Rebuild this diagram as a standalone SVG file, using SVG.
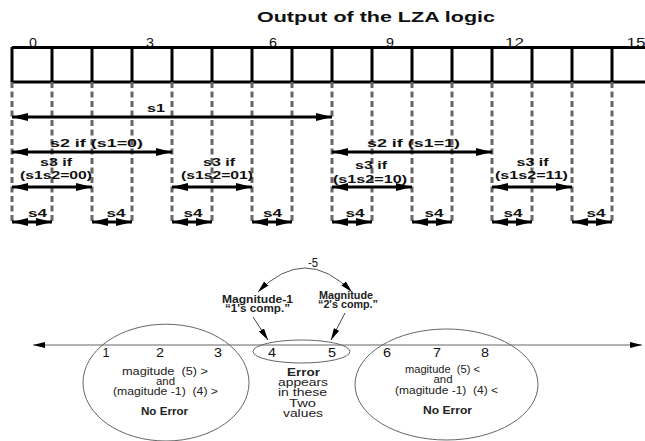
<svg xmlns="http://www.w3.org/2000/svg" width="645" height="441" viewBox="0 0 645 441">
<style>
text{font-family:"Liberation Sans",Arial,sans-serif;white-space:pre}
.b{font-weight:bold}
.lbl{font-weight:bold;font-size:11.5px;fill:#111;text-anchor:middle}
.num{font-size:12px;fill:#111;text-anchor:middle}
.grid{stroke:#000;stroke-width:3;fill:none}
.dash{stroke:#666;stroke-width:3;stroke-dasharray:6 3.5;fill:none}
.arr{stroke:#000;stroke-width:3;fill:none;marker-start:url(#ah);marker-end:url(#ah)}
.sm{font-size:10px;fill:#222;text-anchor:middle}
.ell{fill:none;stroke:#666;stroke-width:1}
.thin{stroke:#444;stroke-width:1;fill:none}
</style>
<defs>
<marker id="ah" viewBox="0 0 16 8" refX="16" refY="4" markerWidth="16" markerHeight="8" markerUnits="userSpaceOnUse" orient="auto-start-reverse">
<path d="M0,0 L16,4 L0,8 z" fill="#000"/>
</marker>
<marker id="sh" viewBox="0 0 12 6" refX="12" refY="3" markerWidth="12" markerHeight="6" markerUnits="userSpaceOnUse" orient="auto-start-reverse">
<path d="M0,0 L12,3 L0,6 z" fill="#000"/>
</marker>
</defs>

<text class="b" x="376" y="22" font-size="15.5" fill="#111" text-anchor="middle" textLength="238" lengthAdjust="spacingAndGlyphs">Output of the LZA logic</text>

<g id="grid">
<line class="grid" x1="12" y1="47.5" x2="645" y2="47.5" stroke-width="2"/>
<line class="grid" x1="12" y1="82" x2="645" y2="82" stroke-width="2"/>
<path class="grid" d="M12,47 V82 M52,47 V82 M92,47 V82 M132,47 V82 M172,47 V82 M212,47 V82 M252,47 V82 M292,47 V82 M332,47 V82 M372,47 V82 M412,47 V82 M452,47 V82 M492,47 V82 M532,47 V82 M612,47 V82"/>
<path class="grid" stroke-width="1.5" d="M572,47 V82"/>
<text class="num" x="33" y="46.5" font-size="12.5" textLength="8" lengthAdjust="spacingAndGlyphs">0</text>
<text class="num" x="150" y="46.5" font-size="12.5" textLength="8" lengthAdjust="spacingAndGlyphs">3</text>
<text class="num" x="273" y="46.5" font-size="12.5" textLength="8" lengthAdjust="spacingAndGlyphs">6</text>
<text class="num" x="390" y="46.5" font-size="12.5" textLength="8" lengthAdjust="spacingAndGlyphs">9</text>
<text class="num" x="514.5" y="46.5" font-size="12.5" textLength="19" lengthAdjust="spacingAndGlyphs">12</text>
<text class="num" x="636" y="46.5" font-size="12.5" textLength="19" lengthAdjust="spacingAndGlyphs">15</text>
</g>

<g id="guides">
<path class="dash" d="M12,82 V222 M52,82 V222 M92,82 V222 M132,82 V222 M172,82 V222 M212,82 V222 M252,82 V222 M292,82 V222 M332,82 V222 M372,82 V222 M412,82 V222 M452,82 V222 M492,82 V222 M532,82 V222 M572,82 V222 M612,82 V222"/>
</g>

<g id="connectors">
<line class="arr" x1="12" y1="117" x2="332" y2="117"/>
<line class="arr" x1="12" y1="152" x2="172" y2="152"/>
<line class="arr" x1="332" y1="152" x2="492" y2="152"/>
<line class="arr" x1="12" y1="187" x2="92" y2="187"/>
<line class="arr" x1="172" y1="187" x2="252" y2="187"/>
<line class="arr" x1="332" y1="187" x2="412" y2="187"/>
<line class="arr" x1="492" y1="187" x2="572" y2="187"/>
<line class="arr" x1="12" y1="222" x2="52" y2="222"/>
<line class="arr" x1="92" y1="222" x2="132" y2="222"/>
<line class="arr" x1="172" y1="222" x2="212" y2="222"/>
<line class="arr" x1="252" y1="222" x2="292" y2="222"/>
<line class="arr" x1="332" y1="222" x2="372" y2="222"/>
<line class="arr" x1="412" y1="222" x2="452" y2="222"/>
<line class="arr" x1="492" y1="222" x2="532" y2="222"/>
<line class="arr" x1="572" y1="222" x2="612" y2="222"/>
</g>

<g id="labels">
<text class="lbl" x="156" y="112" textLength="18" lengthAdjust="spacingAndGlyphs">s1</text>
<text class="lbl" x="96.5" y="147" textLength="93" lengthAdjust="spacingAndGlyphs">s2 if (s1=0)</text>
<text class="lbl" x="413.5" y="147" textLength="93" lengthAdjust="spacingAndGlyphs">s2 if (s1=1)</text>
<text class="lbl" x="56" y="166" textLength="32" lengthAdjust="spacingAndGlyphs">s3 if</text>
<text class="lbl" x="56" y="178.5" textLength="72" lengthAdjust="spacingAndGlyphs">(s1s2=00)</text>
<text class="lbl" x="219" y="166" textLength="32" lengthAdjust="spacingAndGlyphs">s3 if</text>
<text class="lbl" x="217" y="178.5" textLength="72" lengthAdjust="spacingAndGlyphs">(s1s2=01)</text>
<text class="lbl" x="371" y="169" textLength="32" lengthAdjust="spacingAndGlyphs">s3 if</text>
<text class="lbl" x="370" y="182.5" textLength="74" lengthAdjust="spacingAndGlyphs">(s1s2=10)</text>
<text class="lbl" x="532.5" y="166" textLength="32" lengthAdjust="spacingAndGlyphs">s3 if</text>
<text class="lbl" x="531.5" y="178.5" textLength="73" lengthAdjust="spacingAndGlyphs">(s1s2=11)</text>
<text class="lbl" x="37.5" y="217" textLength="19" lengthAdjust="spacingAndGlyphs">s4</text>
<text class="lbl" x="116" y="217" textLength="19" lengthAdjust="spacingAndGlyphs">s4</text>
<text class="lbl" x="193" y="217" textLength="19" lengthAdjust="spacingAndGlyphs">s4</text>
<text class="lbl" x="272.5" y="217" textLength="19" lengthAdjust="spacingAndGlyphs">s4</text>
<text class="lbl" x="355" y="217" textLength="19" lengthAdjust="spacingAndGlyphs">s4</text>
<text class="lbl" x="434" y="217" textLength="19" lengthAdjust="spacingAndGlyphs">s4</text>
<text class="lbl" x="513" y="217" textLength="19" lengthAdjust="spacingAndGlyphs">s4</text>
<text class="lbl" x="596" y="217" textLength="19" lengthAdjust="spacingAndGlyphs">s4</text>
</g>

<g id="numberline">
<line x1="33" y1="345" x2="642" y2="345" stroke="#999" stroke-width="1.5" marker-start="url(#sh)" marker-end="url(#sh)"/>
<text class="num" x="106" y="356.5" textLength="7" lengthAdjust="spacingAndGlyphs">1</text>
<text class="num" x="160" y="356.5" textLength="8" lengthAdjust="spacingAndGlyphs">2</text>
<text class="num" x="218" y="356.5" textLength="8" lengthAdjust="spacingAndGlyphs">3</text>
<text class="num" x="387" y="356.5" textLength="8" lengthAdjust="spacingAndGlyphs">6</text>
<text class="num" x="437" y="356.5" textLength="8" lengthAdjust="spacingAndGlyphs">7</text>
<text class="num" x="485" y="356.5" textLength="8" lengthAdjust="spacingAndGlyphs">8</text>
</g>

<g id="no-error-left">
<ellipse class="ell" cx="166" cy="382.6" rx="83" ry="58.4"/>
<text class="sm" x="165" y="374.5" textLength="86" lengthAdjust="spacingAndGlyphs">magitude  (5) &gt;</text>
<text class="sm" x="165.5" y="384.5" textLength="19" lengthAdjust="spacingAndGlyphs">and</text>
<text class="sm" x="165.5" y="394.5" textLength="105" lengthAdjust="spacingAndGlyphs">(magitude -1)  (4) &gt;</text>
<text class="sm b" x="164.5" y="414.5" fill="#000" textLength="47" lengthAdjust="spacingAndGlyphs">No Error</text>
</g>

<g id="no-error-right">
<ellipse class="ell" cx="446.5" cy="384.5" rx="91.5" ry="55.5"/>
<text class="sm" x="442.5" y="372.5" textLength="75" lengthAdjust="spacingAndGlyphs">magitude  (5) &lt;</text>
<text class="sm" x="443" y="382.5" textLength="19" lengthAdjust="spacingAndGlyphs">and</text>
<text class="sm" x="446.5" y="393.5" textLength="103" lengthAdjust="spacingAndGlyphs">(magitude -1)  (4) &lt;</text>
<text class="sm b" x="447.5" y="413.5" fill="#000" textLength="49" lengthAdjust="spacingAndGlyphs">No Error</text>
</g>

<g id="error-zone">
<ellipse class="ell" cx="301.5" cy="351.5" rx="48.5" ry="11.5"/>
<text class="num" x="272" y="356.5" textLength="8" lengthAdjust="spacingAndGlyphs">4</text>
<text class="num" x="332" y="356.5" textLength="8" lengthAdjust="spacingAndGlyphs">5</text>
<text class="sm b" x="303.5" y="376" fill="#000" font-size="11" textLength="33" lengthAdjust="spacingAndGlyphs">Error</text>
<text class="sm" x="303" y="386" font-size="11" fill="#333" textLength="50" lengthAdjust="spacingAndGlyphs">appears</text>
<text class="sm" x="302.5" y="396" font-size="11" fill="#333" textLength="49" lengthAdjust="spacingAndGlyphs">in these</text>
<text class="sm" x="302.5" y="406.5" font-size="11" fill="#333" textLength="27" lengthAdjust="spacingAndGlyphs">Two</text>
<text class="sm" x="303" y="416.5" font-size="11" fill="#333" textLength="40" lengthAdjust="spacingAndGlyphs">values</text>
</g>

<g id="ones-comp">
<text class="sm b" x="257.5" y="302.5" font-size="8" textLength="71" lengthAdjust="spacingAndGlyphs">Magnitude-1</text>
<text class="sm b" x="257.5" y="312" font-size="8" textLength="65" lengthAdjust="spacingAndGlyphs">“1's comp.”</text>
</g>
<g id="twos-comp">
<text class="sm b" x="346" y="298.5" font-size="8" textLength="54" lengthAdjust="spacingAndGlyphs">Magnitude</text>
<text class="sm b" x="348" y="308" font-size="8" textLength="60" lengthAdjust="spacingAndGlyphs">“2's comp.”</text>
</g>

<g id="connectors-bottom">
<text class="num" x="313" y="267" font-size="11" textLength="10" lengthAdjust="spacingAndGlyphs">-5</text>
<path d="M258,292 Q305,244 352,292" stroke="#555" stroke-width="1" fill="none" marker-start="url(#sh)" marker-end="url(#sh)"/>
<line class="thin" x1="253" y1="317" x2="268" y2="340" marker-end="url(#sh)"/>
<line class="thin" x1="345" y1="313" x2="331" y2="340" marker-end="url(#sh)"/>
</g>
</svg>
